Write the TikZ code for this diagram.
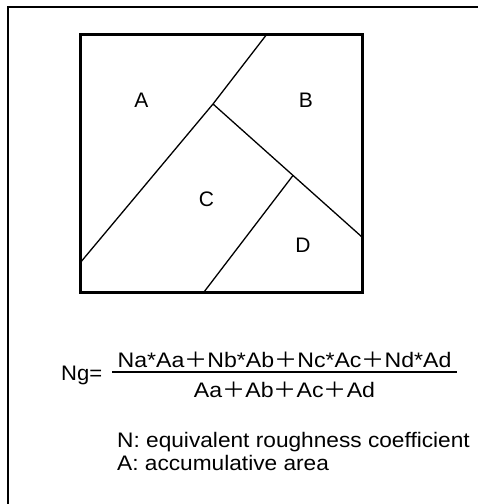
\documentclass[tikz,border=0pt]{standalone}
\usepackage{fontspec}
\setmainfont{Liberation Sans}
\newfontfamily\jpfont{Noto Sans CJK JP}
\newcommand{\jplus}{{\jpfont ＋}}
\newcommand{\wide}[2]{\scalebox{#1}[1]{#2}}
\usetikzlibrary{calc}

\begin{document}
\begin{tikzpicture}[x=1pt,y=-1pt,
  frame/.style={line width=2pt},
  plot/.style={line width=3pt},
  divide/.style={line width=1.3pt},
  lbl/.style={font=\fontsize{21}{25}\selectfont, inner sep=0pt},
  txt/.style={font=\fontsize{21}{25}\selectfont, inner sep=0pt}]
\useasboundingbox (0,0) rectangle (478,504);
\clip (0,0) rectangle (478,504);
\fill[white] (0,0) rectangle (478,504);

% outer frame (runs off the page on the right and bottom)
\draw[frame] (8,7) rectangle (520,540);

% parcel outline
\coordinate (nw) at (80,34);
\coordinate (se) at (362,292);
\draw[plot] (nw) rectangle (se);

% boundaries between the sub-areas
\coordinate (t1) at (267,34);
\coordinate (j1) at (213,104);
\coordinate (l1) at (80,263);
\coordinate (r2) at (362,237);
\coordinate (j2) at ($(j1)!0.537!(r2)$);
\coordinate (b3) at (204,292);
\draw[divide] (t1) -- (j1) -- (l1);
\draw[divide] (j1) -- (r2);
\draw[divide] (j2) -- (b3);

% area labels
\node[lbl] (la) at (141.5,100) {A};
\node[lbl] (lb) at (306,100) {B};
\node[lbl] (lc) at (206.5,199) {C};
\node[lbl] (ld) at (303,245) {D};

% weighted mean of the roughness coefficient
\node[txt, anchor=base west] (ng) at (61,380) {\wide{1.05}{Ng=}};
\node[txt, anchor=base] (num) at (284.5,367) {\wide{1.1}{Na*Aa\jplus Nb*Ab\jplus Nc*Ac\jplus Nd*Ad}};
\coordinate (bl) at (112,372);
\coordinate (br) at (457,372);
\draw[line width=2pt] (bl) -- (br);
\node[txt, anchor=base] (den) at (284.5,397) {\wide{1.1}{Aa\jplus Ab\jplus Ac\jplus Ad}};

% legend
\node[txt, anchor=base west] (n1) at (117,447) {\wide{1.08}{N: equivalent roughness coefficient}};
\node[txt, anchor=base west] (n2) at (117,470) {\wide{1.08}{A: accumulative area}};
\end{tikzpicture}
\end{document}
